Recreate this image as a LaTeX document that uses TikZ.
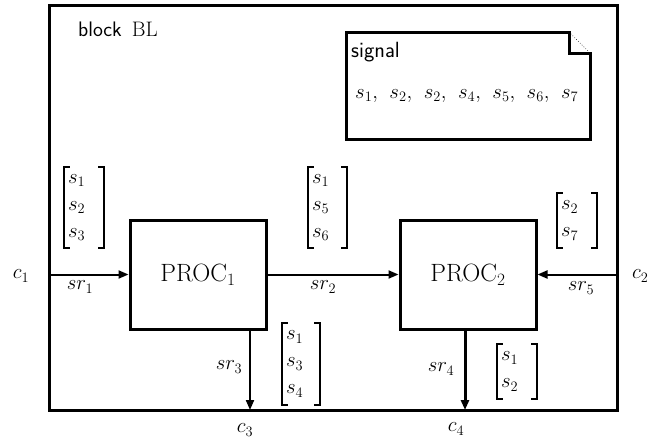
\documentclass[tikz,border=0pt]{standalone}
\usetikzlibrary{arrows.meta}
\newcommand\drawbrackets[1]{%
  \draw[brk] ([xshift=6pt]#1.north west) -- (#1.north west) -- (#1.south west) -- ([xshift=6pt]#1.south west);
  \draw[brk] ([xshift=-6pt]#1.north east) -- (#1.north east) -- (#1.south east) -- ([xshift=-6pt]#1.south east);}
\begin{document}
\begin{tikzpicture}[x=1pt,y=-1pt,
  procbox/.style={draw, line width=3pt, minimum width=136pt, minimum height=109pt, inner sep=0pt, font=\fontsize{25}{29}\selectfont},
  conn/.style={line width=2pt, -{Triangle[length=10pt,width=8pt]}},
  lbl/.style={font=\fontsize{22}{26}\selectfont, inner sep=0pt},
  txt/.style={font=\fontsize{21}{25}\selectfont, inner sep=0pt},
  vec/.style={inner xsep=4pt, inner ysep=0pt, align=left, text width=30pt, font=\fontsize{21}{27}\selectfont},
  brk/.style={line width=2.5pt}]
\useasboundingbox (0,0) rectangle (649,440);
% outer block
\node[draw, line width=3pt, minimum width=568pt, minimum height=405pt, inner sep=0pt] (BL) at (333,207.5) {};
\node[txt, anchor=base west] (title) at (78,36) {\sffamily block\hspace{10pt}\rmfamily BL};
% signal note
\draw[line width=3pt] (346,32) -- (569,32) -- (569,53) -- (590,53) -- (590,139) -- (346,139) -- cycle;
\draw[line width=0.6pt, dotted] (569,32) -- (590,53);
\node[font=\fontsize{22}{26}\selectfont, inner sep=0pt, anchor=base west] (sigtitle) at (351,57) {\sffamily signal};
\node[lbl, anchor=base west] (siglist) at (355,98) {\makebox[223pt][l]{$s_1,$\hfill$s_2,$\hfill$s_2,$\hfill$s_4,$\hfill$s_5,$\hfill$s_6,$\hfill$s_7$}};
% processes
\node[procbox] (P1) at (198,274.5) {PROC$_1$};
\node[procbox] (P2) at (468,274.5) {PROC$_2$};
% border points
\coordinate (c1p) at (49,274.5);
\coordinate (c2p) at (617,274.5);
\coordinate (c3p) at (250,410);
\coordinate (c4p) at (465,410);
% connectors
\draw[conn] (c1p) -- (P1);
\draw[conn] (P1) -- (P2);
\draw[conn] (c2p) -- (P2);
\draw[conn] (P1.south -| c3p) -- (c3p);
\draw[conn, line width=3pt] (P2.south -| c4p) -- (c4p);
% labels
\node[lbl] (c1) at (21,276) {$c_1$};
\node[lbl, anchor=west] (c2) at (632,276) {$c_2$};
\node[lbl] (c3) at (245,430) {$c_3$};
\node[lbl] (c4) at (456,429) {$c_4$};
\node[lbl] (sr1) at (80,287) {$sr_1$};
\node[lbl] (sr2) at (323,287) {$sr_2$};
\node[lbl] (sr5) at (581,288) {$sr_5$};
\node[lbl] (sr3) at (229,367) {$sr_3$};
\node[lbl] (sr4) at (441,369) {$sr_4$};
% signal vectors
\node[vec, minimum height=81pt, text width=32pt] (v1) at (84,207.5) {$s_1$\\$s_2$\\$s_3$};
\node[vec, minimum height=81pt, text width=31pt] (v2) at (327.5,207.5) {$s_1$\\$s_5$\\$s_6$};
\node[vec, minimum height=55pt, text width=32pt] (v3) at (577,220.5) {$s_2$\\$s_7$};
\node[vec, minimum height=82pt, text width=30pt] (v4) at (301,364) {$s_1$\\$s_3$\\$s_4$};
\node[vec, minimum height=55pt, text width=32pt] (v5) at (517,371.5) {$s_1$\\$s_2$};
\drawbrackets{v1}
\drawbrackets{v2}
\drawbrackets{v3}
\drawbrackets{v4}
\drawbrackets{v5}
\end{tikzpicture}
\end{document}
